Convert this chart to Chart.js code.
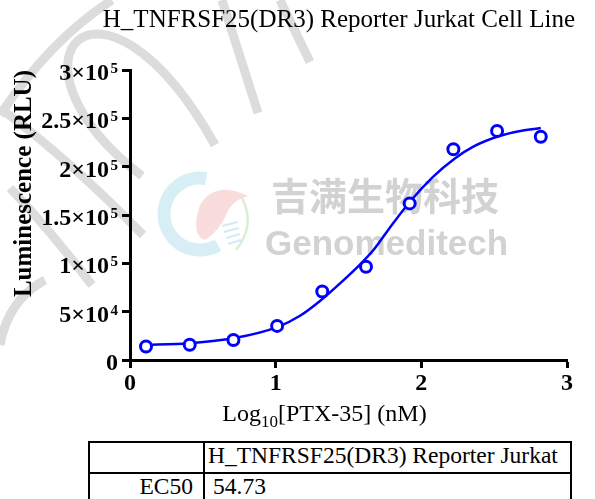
<!DOCTYPE html>
<html>
<head>
<meta charset="utf-8">
<script src="https://cdn.jsdelivr.net/npm/chart.js@4"></script>
<style>
  html,body{margin:0;padding:0;background:#ffffff;}
  #wrap{position:relative;width:595px;height:499px;overflow:hidden;background:#fff;}
  #c{position:absolute;left:0;top:0;}
  table{position:absolute;left:88px;top:441px;width:482px;table-layout:fixed;border-collapse:collapse;font-family:"Liberation Serif",serif;font-size:23.5px;line-height:24px;color:#000;}
  td{border:2px solid #000;padding:0;height:29px;vertical-align:top;white-space:nowrap;overflow:hidden;}
  td.c1{text-align:right;padding-right:10px;}
  td.c2{text-align:left;padding-left:3px;}
  td.v{padding-left:8px;}
</style>
</head>
<body>
<div id="wrap">
<canvas id="c" width="595" height="440"></canvas>
<table>
  <colgroup><col style="width:115px"><col style="width:367px"></colgroup>
  <tr><td class="c1"></td><td class="c2">H_TNFRSF25(DR3) Reporter Jurkat</td></tr>
  <tr><td class="c1">EC50</td><td class="c2 v">54.73</td></tr>
</table>
</div>
<script>
// ---- data ----
const titleText = 'H_TNFRSF25(DR3) Reporter Jurkat Cell Line';
const xTitleParts = ['Log', '10', '[PTX-35] (nM)'];   // "10" is a subscript
const yTitle = 'Luminescence (RLU)';

// measured points (log10 concentration, RLU)
const pointX = [0.11, 0.41, 0.71, 1.01, 1.32, 1.62, 1.92, 2.22, 2.52, 2.82];
const pointY = [14000, 15800, 20700, 35300, 70800, 96500, 162000, 218000, 237000, 231000];

// fitted curve
const curveX = [0.08, 0.41, 0.71, 1.02, 1.17, 1.30, 1.44, 1.58, 1.67, 1.77, 1.92, 2.08, 2.23, 2.36, 2.53, 2.68, 2.82];
const curveY = [15500, 17400, 22500, 34600, 46000, 60500, 79000, 99000, 113500, 134000, 163500, 189500, 208500, 221000, 231500, 237000, 240000];

const yTickValues = [0, 50000, 100000, 150000, 200000, 250000, 300000];
const yTickBase = ['0', '5\u00d710', '1\u00d710', '1.5\u00d710', '2\u00d710', '2.5\u00d710', '3\u00d710'];
const yTickExp = ['', '4', '5', '5', '5', '5', '5'];
const xTickValues = [0, 1, 2, 3];
const xTickLabels = ['0', '1', '2', '3'];

const watermarkCN = '吉满生物科技';
const watermarkEN = 'Genomeditech';

const SERIF = '"Liberation Serif", "Times New Roman", serif';

// ---- background watermark (decorative) ----
const watermarkPlugin = {
  id: 'watermark',
  beforeDraw(chart) {
    const ctx = chart.ctx;
    ctx.save();
    ctx.strokeStyle = '#dcdcdc';
    ctx.lineWidth = 9;
    ctx.lineCap = 'butt';
    const paths = [
      c => { c.moveTo(112, 0); c.quadraticCurveTo(50, 40, 0, 115); },
      c => { c.moveTo(142, 176); c.bezierCurveTo(-10, 60, 100, -60, 215, 145); },
      c => { c.moveTo(0, 108); c.quadraticCurveTo(70, 160, 143, 235); },
      c => { c.moveTo(10, 188); c.quadraticCurveTo(50, 230, 92, 285); },
      c => { c.moveTo(45, 280); c.quadraticCurveTo(8, 300, 0, 345); },
      c => { c.moveTo(222, 0); c.lineTo(258, 113); },
      c => { c.moveTo(280, 0); c.lineTo(310, 62); }
    ];
    paths.forEach(p => { ctx.beginPath(); p(ctx); ctx.stroke(); });

    // logo
    ctx.globalAlpha = 0.35;
    ctx.strokeStyle = '#8ccfe0';
    ctx.lineWidth = 13;
    ctx.beginPath();
    ctx.arc(200, 214, 36, -80 * Math.PI / 180, 60 * Math.PI / 180, true);
    ctx.stroke();
    ctx.fillStyle = '#ee9a9a';
    ctx.beginPath();
    ctx.moveTo(248, 196);
    ctx.quadraticCurveTo(215, 180, 200, 205);
    ctx.quadraticCurveTo(190, 235, 205, 240);
    ctx.quadraticCurveTo(220, 230, 226, 215);
    ctx.quadraticCurveTo(232, 200, 248, 196);
    ctx.fill();
    ctx.globalAlpha = 0.5;
    ctx.strokeStyle = '#b8e0a8';
    ctx.lineWidth = 2.5;
    ctx.beginPath();
    ctx.moveTo(242, 198);
    ctx.quadraticCurveTo(256, 225, 236, 250);
    ctx.stroke();
    ctx.strokeStyle = '#a8d8ea';
    ctx.lineWidth = 2;
    for (let i = 0; i < 4; i++) {
      ctx.beginPath();
      ctx.moveTo(222 + i * 2, 226 + i * 6);
      ctx.lineTo(238 + i, 222 + i * 6);
      ctx.stroke();
    }
    ctx.globalAlpha = 1;

    ctx.fillStyle = '#d2d2d2';
    ctx.textAlign = 'left';
    ctx.textBaseline = 'middle';
    ctx.font = 'bold 38px "Noto Sans CJK SC"';
    ctx.fillText(watermarkCN, 271, 196);
    ctx.textBaseline = 'alphabetic';
    ctx.font = 'bold 35px "Liberation Sans"';
    ctx.fillText(watermarkEN, 265, 255);
    ctx.restore();
  }
};

// ---- y tick labels with superscripts, and x title with subscript ----
const textPlugin = {
  id: 'richText',
  afterDraw(chart) {
    const ctx = chart.ctx;
    const y = chart.scales.y;
    const x = chart.scales.x;
    ctx.save();
    ctx.fillStyle = '#000';
    ctx.textBaseline = 'alphabetic';
    const right = y.right - 12;
    yTickValues.forEach((v, i) => {
      const py = y.getPixelForValue(v);
      let xr = right;
      if (yTickExp[i]) {
        ctx.font = 'bold 15px ' + SERIF;
        ctx.textAlign = 'right';
        ctx.fillText(yTickExp[i], xr, py + 3);
        xr -= ctx.measureText(yTickExp[i]).width + 1.5;
      }
      ctx.font = 'bold 24px ' + SERIF;
      ctx.textAlign = 'right';
      ctx.fillText(yTickBase[i], xr, py + 10);
    });

    // x-axis title
    ctx.textAlign = 'left';
    const f1 = '24px ' + SERIF, f2 = '17px ' + SERIF;
    ctx.font = f1;
    const w0 = ctx.measureText(xTitleParts[0]).width;
    const w2 = ctx.measureText(xTitleParts[2]).width;
    ctx.font = f2;
    const w1 = ctx.measureText(xTitleParts[1]).width;
    const total = w0 + w1 + w2;
    let sx = (x.left + x.right) / 2 - 24 - total / 2;
    const base = x.bottom - 19;
    ctx.font = f1; ctx.fillText(xTitleParts[0], sx, base); sx += w0;
    ctx.font = f2; ctx.fillText(xTitleParts[1], sx, base + 6); sx += w1;
    ctx.font = f1; ctx.fillText(xTitleParts[2], sx, base);
    ctx.restore();
  }
};

Chart.defaults.font.family = SERIF;
Chart.defaults.color = '#000000';

new Chart(document.getElementById('c'), {
  type: 'scatter',
  data: {
    datasets: [
      {
        label: 'data',
        data: pointX.map((x, i) => ({x: x, y: pointY[i]})),
        showLine: false,
        pointStyle: 'circle',
        pointRadius: 5.5,
        pointBorderWidth: 3,
        pointBorderColor: '#0000ff',
        pointBackgroundColor: '#ffffff',
        pointHoverRadius: 5.5
      },
      {
        label: 'fit',
        data: curveX.map((x, i) => ({x: x, y: curveY[i]})),
        showLine: true,
        borderColor: '#0000ff',
        borderWidth: 2.5,
        pointRadius: 0,
        pointHoverRadius: 0,
        cubicInterpolationMode: 'monotone',
        fill: false
      }
    ]
  },
  options: {
    responsive: false,
    devicePixelRatio: 1,
    animation: false,
    events: [],
    layout: {padding: {left: 0, right: 20, top: 0, bottom: 0}},
    plugins: {
      legend: {display: false},
      tooltip: {enabled: false},
      title: {
        display: true,
        text: titleText,
        align: 'end',
        color: '#000',
        font: {size: 25, weight: 'normal'},
        padding: {top: 5, bottom: 35}
      }
    },
    scales: {
      x: {
        type: 'linear',
        min: 0, max: 3,
        afterFit: s => { s.height = 80; },
        afterBuildTicks: s => { s.ticks = xTickValues.map(v => ({value: v})); },
        ticks: {
          callback: (v) => xTickLabels[xTickValues.indexOf(v)],
          font: {size: 24, weight: 'bold'},
          color: '#000',
          padding: 1,
          maxRotation: 0
        },
        grid: {display: true, drawOnChartArea: false, drawTicks: true, tickLength: 8, tickWidth: 3, tickColor: '#000'},
        border: {display: true, width: 3, color: '#000'},
        title: {display: false}
      },
      y: {
        type: 'linear',
        position: 'left',
        min: 0, max: 300000,
        afterFit: s => { s.width = 130; },
        afterBuildTicks: s => { s.ticks = yTickValues.map(v => ({value: v})); },
        ticks: {display: false},
        grid: {display: true, drawOnChartArea: false, drawTicks: true, tickLength: 8, tickWidth: 3, tickColor: '#000'},
        border: {display: true, width: 3, color: '#000'},
        title: {
          display: true,
          text: yTitle,
          align: 'end',
          color: '#000',
          font: {size: 25, weight: 'bold'},
          padding: {top: 10, bottom: 0}
        }
      },
      yPad: {
        type: 'linear',
        position: 'right',
        display: true,
        min: 0, max: 1,
        afterFit: s => { s.width = 8; },
        ticks: {display: false},
        grid: {display: false, drawTicks: false},
        border: {display: false}
      }
    }
  },
  plugins: [watermarkPlugin, textPlugin]
});
</script>
</body>
</html>
